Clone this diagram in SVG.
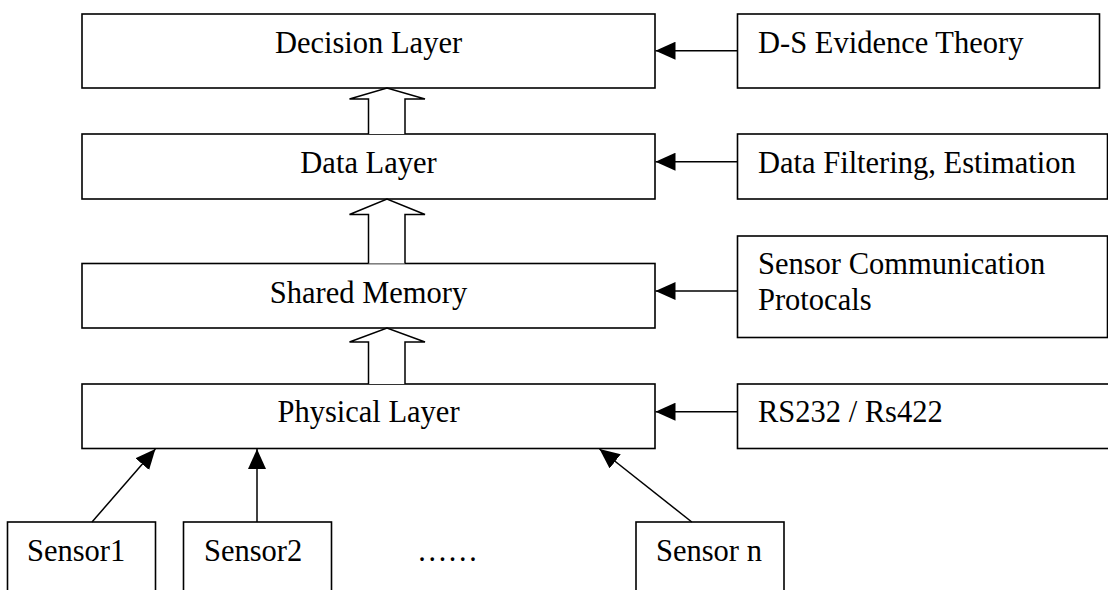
<svg xmlns="http://www.w3.org/2000/svg" width="1108" height="590" viewBox="0 0 1108 590">
  <style>
    .box { fill: #fff; stroke: #000; stroke-width: 1.6; }
    .lbl { font-family: "Liberation Serif", "Times New Roman", serif; font-size: 30.5px; fill: #000; }
    .mid { text-anchor: middle; }
    .wire { stroke: #000; stroke-width: 1.5; fill: none; }
    .hollow { fill: #fff; stroke: #000; stroke-width: 1.5; stroke-linejoin: miter; }
  </style>
  <defs>
    <marker id="tip" viewBox="0 0 20 18" refX="20" refY="9" markerWidth="20" markerHeight="18" markerUnits="userSpaceOnUse" orient="auto">
      <path d="M0,0 L20,9 L0,18 z" fill="#000"/>
    </marker>
  </defs>
  <rect width="1108" height="590" fill="#fff"/>

  <!-- layer stack -->
  <g id="decision-layer">
    <rect class="box" x="82" y="14" width="573" height="74"/>
    <text class="lbl mid" x="368.5" y="53">Decision Layer</text>
  </g>
  <g id="data-layer">
    <rect class="box" x="82" y="134" width="573" height="65"/>
    <text class="lbl mid" x="368.5" y="173">Data Layer</text>
  </g>
  <g id="shared-memory">
    <rect class="box" x="82" y="263.5" width="573" height="64.5"/>
    <text class="lbl mid" x="368.5" y="302.5">Shared Memory</text>
  </g>
  <g id="physical-layer">
    <rect class="box" x="82" y="384" width="573" height="64.5"/>
    <text class="lbl mid" x="368.5" y="422">Physical Layer</text>
  </g>

  <!-- methods feeding each layer -->
  <g id="ds-evidence">
    <rect class="box" x="737.5" y="14" width="362" height="74"/>
    <text class="lbl" x="758" y="53">D-S Evidence Theory</text>
  </g>
  <g id="data-filtering">
    <rect class="box" x="737.5" y="134" width="370" height="65"/>
    <text class="lbl" x="758" y="173">Data Filtering, Estimation</text>
  </g>
  <g id="sensor-protocols">
    <rect class="box" x="737.5" y="236" width="370" height="101.5"/>
    <text class="lbl" x="758" y="273.5">Sensor Communication</text>
    <text class="lbl" x="758" y="309.5">Protocals</text>
  </g>
  <g id="serial-bus">
    <rect class="box" x="737.5" y="384" width="380" height="64.5"/>
    <text class="lbl" x="758" y="422">RS232 / Rs422</text>
  </g>

  <!-- sensors -->
  <g id="sensor-1">
    <rect class="box" x="7.5" y="522" width="148" height="80"/>
    <text class="lbl" x="27" y="561">Sensor1</text>
  </g>
  <g id="sensor-2">
    <rect class="box" x="183.5" y="522" width="148" height="80"/>
    <text class="lbl" x="204" y="561">Sensor2</text>
  </g>
  <g id="sensor-more">
    <text class="lbl" x="417" y="561">……</text>
  </g>
  <g id="sensor-n">
    <rect class="box" x="636" y="522" width="148" height="80"/>
    <text class="lbl" x="656" y="561">Sensor n</text>
  </g>

  <!-- connectors -->
  <g id="connectors">
    <!-- hollow block arrows between layers -->
    <path class="hollow" d="M368.5,134 V99 H349.5 L387,88 L425,99 H405 V134"/>
    <path class="hollow" d="M368.5,263.5 V214.5 H349.5 L387,199 L425,214.5 H405 V263.5"/>
    <path class="hollow" d="M368.5,384 V342 H349.5 L387,328 L425,342 H405 V384"/>

    <!-- method inputs -->
    <line class="wire" x1="737.5" y1="50.7" x2="655.5" y2="50.7" marker-end="url(#tip)"/>
    <line class="wire" x1="737.5" y1="161.7" x2="655.5" y2="161.7" marker-end="url(#tip)"/>
    <line class="wire" x1="737.5" y1="291" x2="655.5" y2="291" marker-end="url(#tip)"/>
    <line class="wire" x1="737.5" y1="411.7" x2="655.5" y2="411.7" marker-end="url(#tip)"/>

    <!-- sensor inputs -->
    <line class="wire" x1="92" y1="522" x2="155.4" y2="449" marker-end="url(#tip)"/>
    <line class="wire" x1="257" y1="522" x2="257" y2="449" marker-end="url(#tip)"/>
    <line class="wire" x1="691.8" y1="522" x2="599.5" y2="449" marker-end="url(#tip)"/>
  </g>
</svg>
